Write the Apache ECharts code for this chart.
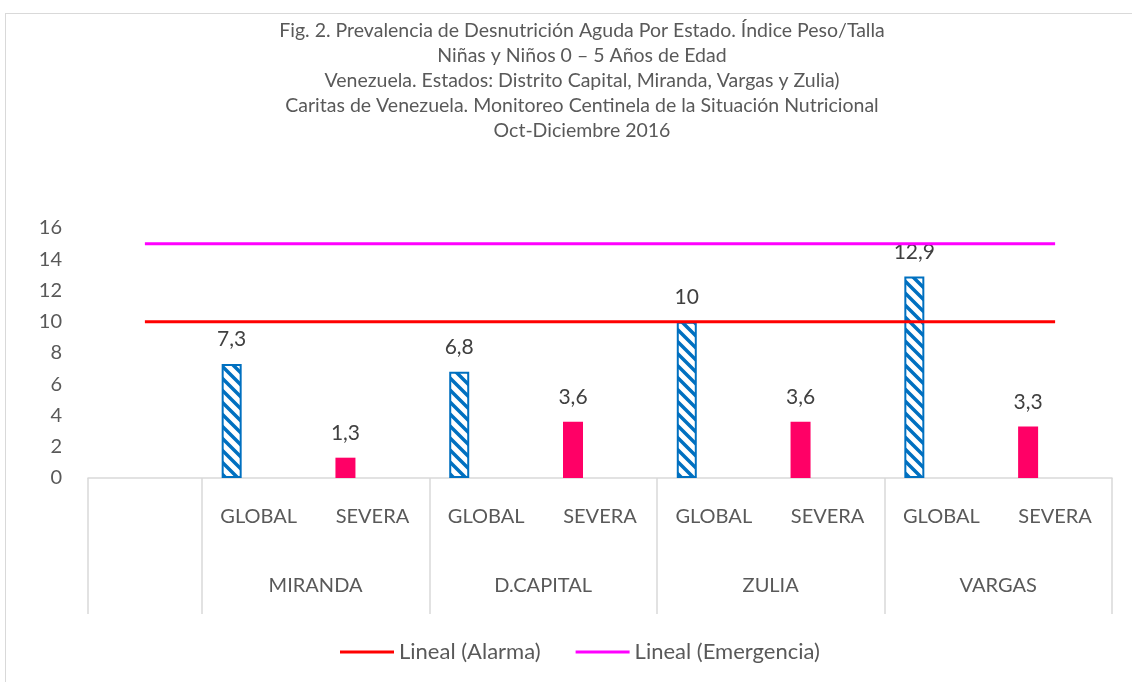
<!DOCTYPE html>
<html>
<head>
<meta charset="utf-8">
<script src="https://cdn.jsdelivr.net/npm/echarts@6/dist/echarts.min.js"></script>
<style>
  html, body { margin: 0; padding: 0; background: #fff; overflow: hidden; }
  #frame { position: absolute; left: 5px; top: 13px; width: 1200px; height: 800px; border: 1px solid #d9d9d9; }
  #chart { position: absolute; left: 0; top: 0; width: 1132px; height: 682px; }
</style>
</head>
<body>
<div id="frame"></div>
<div id="chart"></div>
<script>
// datos
const estados = ['MIRANDA', 'D.CAPITAL', 'ZULIA', 'VARGAS']
const tipos = ['GLOBAL', 'SEVERA']
const globalVals = [7.3, 6.8, 10, 12.9]
const severaVals = [1.3, 3.6, 3.6, 3.3]
const alarma = 10
const emergencia = 15
const yTicks = [0, 2, 4, 6, 8, 10, 12, 14, 16]

// categorias: una vacia al inicio y luego GLOBAL/SEVERA por estado
let cats = ['']
let serieGlobal = [null]
let serieSevera = [null]
estados.forEach(function (e, i) {
  cats.push(tipos[0], tipos[1])
  serieGlobal.push(globalVals[i], null)
  serieSevera.push(null, severaVals[i])
})
let serieAlarma = cats.map(function () { return alarma })
let serieEmergencia = cats.map(function () { return emergencia })
let vacio = cats.map(function () { return null })

// segundo nivel del eje: puntos en los bordes/centros de las categorias
let nivel2 = []
for (let k = 0; k <= cats.length * 2; k++) nivel2.push('')
estados.forEach(function (e, i) { nivel2[4 + 4 * i] = e })
const bordes = [0, 2, 6, 10, 14, 18]

// trama rayada para GLOBAL
let tile = document.createElement('canvas')
tile.width = 12
tile.height = 12
let ctx = tile.getContext('2d')
ctx.fillStyle = '#ffffff'
ctx.fillRect(0, 0, 12, 12)
ctx.strokeStyle = '#0070C0'
ctx.lineWidth = 3.5
ctx.beginPath()
ctx.moveTo(-6, -6); ctx.lineTo(18, 18)
ctx.moveTo(-6, 6); ctx.lineTo(6, 18)
ctx.moveTo(6, -6); ctx.lineTo(18, 6)
ctx.stroke()

const fuente = 'Lato, "Open Sans", sans-serif'
const fmt = function (p) { return String(p.value).replace('.', ',') }

let chart = echarts.init(document.getElementById('chart'))
let option = {
  backgroundColor: 'transparent',
  animation: false,
  textStyle: { fontFamily: fuente },
  title: {
    text: 'Fig. 2. Prevalencia de Desnutrición Aguda Por Estado. Índice Peso/Talla\nNiñas y Niños 0 – 5 Años de Edad\nVenezuela. Estados: Distrito Capital, Miranda, Vargas y Zulia)\nCaritas de Venezuela. Monitoreo Centinela de la Situación Nutricional\nOct-Diciembre 2016',
    left: 577,
    top: 13,
    textAlign: 'center',
    textStyle: { fontFamily: fuente, fontSize: 19.5, fontWeight: 'normal', color: '#595959', lineHeight: 25 }
  },
  legend: {
    data: ['Lineal (Alarma)', 'Lineal (Emergencia)'],
    left: 335,
    top: 636,
    icon: 'rect',
    itemWidth: 54,
    itemHeight: 3,
    itemGap: 35,
    textStyle: { fontFamily: fuente, fontSize: 22, color: '#595959' }
  },
  grid: { left: 88, right: 20, top: 228, bottom: 204, containLabel: false },
  xAxis: [
    {
      type: 'category',
      data: cats,
      position: 'bottom',
      axisLine: { lineStyle: { color: '#d9d9d9', width: 1.5 } },
      axisTick: { show: false },
      axisLabel: { interval: 0, margin: 29, fontSize: 20, color: '#595959', fontFamily: fuente }
    },
    {
      type: 'category',
      data: nivel2,
      boundaryGap: false,
      position: 'bottom',
      axisLine: { show: false },
      axisTick: {
        show: true,
        length: 136,
        interval: function (i) { return bordes.indexOf(i) >= 0 },
        lineStyle: { color: '#d9d9d9', width: 1.5 }
      },
      axisLabel: { interval: 0, margin: 98, fontSize: 20, color: '#595959', fontFamily: fuente }
    }
  ],
  yAxis: {
    type: 'value',
    min: yTicks[0],
    max: yTicks[yTicks.length - 1],
    interval: 2,
    axisLine: { show: false },
    axisTick: { show: false },
    splitLine: { show: false },
    axisLabel: { margin: 26, fontSize: 20, color: '#595959', fontFamily: fuente }
  },
  series: [
    {
      name: 'GLOBAL',
      type: 'bar',
      stack: 'a',
      data: serieGlobal,
      barWidth: 20,
      barGap: '170%',
      itemStyle: { color: { image: tile, repeat: 'repeat' }, borderColor: '#0070C0', borderWidth: 2 },
      label: { show: true, position: 'top', distance: 14, fontSize: 21, color: '#404040', fontFamily: fuente, formatter: fmt }
    },
    {
      name: 'SEVERA',
      type: 'bar',
      stack: 'a',
      data: serieSevera,
      barWidth: 20,
      itemStyle: { color: '#FF0066' },
      label: { show: true, position: 'top', distance: 14, fontSize: 21, color: '#404040', fontFamily: fuente, formatter: fmt }
    },
    {
      name: 'vacio',
      type: 'bar',
      stack: 'b',
      data: vacio,
      barWidth: 20
    },
    {
      name: 'Lineal (Alarma)',
      type: 'line',
      data: serieAlarma,
      showSymbol: false,
      symbol: 'none',
      z: 5,
      color: '#FF0000',
      lineStyle: { color: '#FF0000', width: 3 }
    },
    {
      name: 'Lineal (Emergencia)',
      type: 'line',
      data: serieEmergencia,
      showSymbol: false,
      symbol: 'none',
      z: 5,
      color: '#FF00FF',
      lineStyle: { color: '#FF00FF', width: 3 }
    }
  ]
}
chart.setOption(option)
window.addEventListener('resize', function () {
  chart.resize()
})
</script>
</body>
</html>
